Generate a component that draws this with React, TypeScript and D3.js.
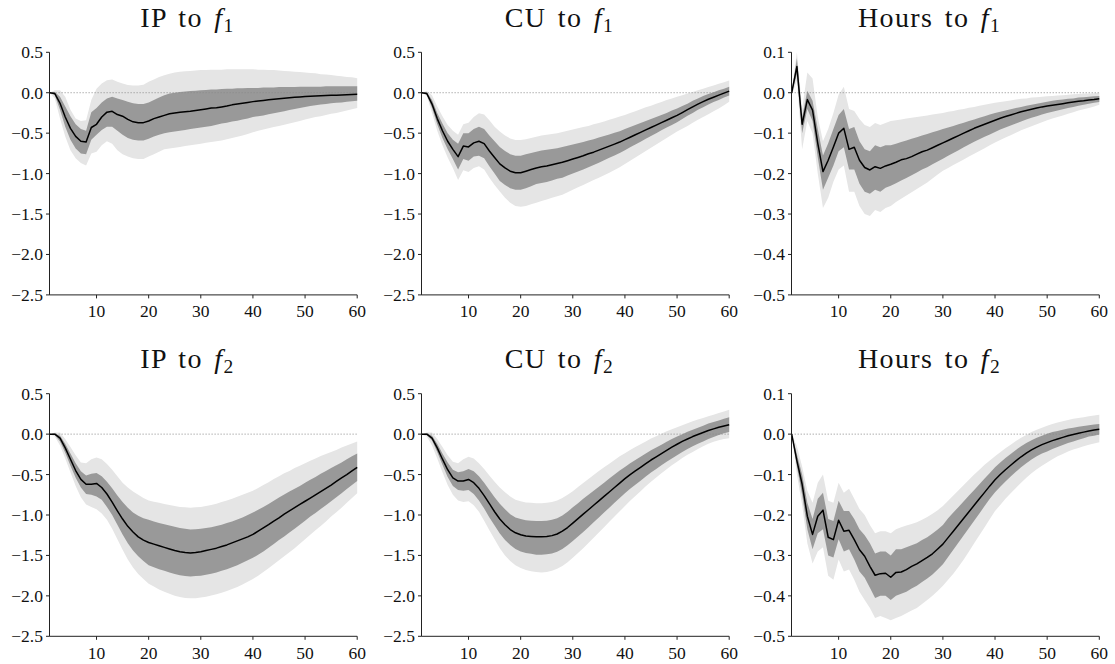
import React from 'react';
import * as d3 from 'd3';

// ---------- categories & ticks ----------
const horizons: number[] = d3.range(1, 61);
const xTickValues = [10, 20, 30, 40, 50, 60];
const levelTicks = [0.5, 0, -0.5, -1, -1.5, -2, -2.5];
const hoursTicks = [0.1, 0, -0.1, -0.2, -0.3, -0.4, -0.5];
const panelVariables = ['IP', 'CU', 'Hours', 'IP', 'CU', 'Hours'];
const panelFactors = ['1', '1', '1', '2', '2', '2'];

// ---------- IP to f1 ----------
const ipF1Med = [
  0, -0.01, -0.13, -0.30, -0.44, -0.54, -0.60, -0.61, -0.43, -0.39,
  -0.30, -0.24, -0.23, -0.27, -0.29, -0.33, -0.36, -0.37, -0.37, -0.35,
  -0.32, -0.30, -0.28, -0.26, -0.25, -0.24, -0.235, -0.23, -0.22, -0.21,
  -0.20, -0.19, -0.185, -0.175, -0.165, -0.15, -0.14, -0.13, -0.12, -0.11,
  -0.102, -0.095, -0.088, -0.081, -0.075, -0.068, -0.062, -0.057, -0.052, -0.048,
  -0.044, -0.041, -0.038, -0.035, -0.032, -0.03, -0.027, -0.025, -0.022, -0.02];
const ipF1Hi68 = [
  0, 0.01, -0.05, -0.17, -0.29, -0.39, -0.45, -0.47, -0.24, -0.19,
  -0.12, -0.07, -0.05, -0.07, -0.09, -0.11, -0.13, -0.14, -0.14, -0.12,
  -0.09, -0.06, -0.03, -0.01, 0.0, 0.01, 0.015, 0.02, 0.025, 0.03,
  0.035, 0.04, 0.04, 0.045, 0.05, 0.05, 0.055, 0.055, 0.06, 0.06,
  0.06, 0.065, 0.065, 0.065, 0.07, 0.07, 0.07, 0.07, 0.075, 0.075,
  0.075, 0.075, 0.075, 0.08, 0.08, 0.08, 0.08, 0.08, 0.08, 0.08];
const ipF1Lo68 = [
  0, -0.03, -0.21, -0.42, -0.58, -0.69, -0.75, -0.76, -0.58, -0.52,
  -0.46, -0.42, -0.42, -0.47, -0.52, -0.56, -0.58, -0.59, -0.59, -0.57,
  -0.54, -0.52, -0.50, -0.49, -0.48, -0.47, -0.46, -0.45, -0.44, -0.43,
  -0.42, -0.41, -0.395, -0.38, -0.37, -0.355, -0.345, -0.33, -0.32, -0.30,
  -0.29, -0.28, -0.265, -0.255, -0.24, -0.23, -0.215, -0.2, -0.19, -0.175,
  -0.165, -0.155, -0.145, -0.14, -0.13, -0.125, -0.12, -0.11, -0.105, -0.1];
const ipF1Hi90 = [
  0, 0.03, 0.03, -0.05, -0.21, -0.32, -0.35, -0.34, -0.09, 0.05,
  0.115, 0.155, 0.165, 0.135, 0.115, 0.095, 0.09, 0.09, 0.10, 0.135,
  0.165, 0.195, 0.215, 0.235, 0.25, 0.26, 0.265, 0.27, 0.275, 0.28,
  0.28, 0.285, 0.285, 0.285, 0.29, 0.29, 0.29, 0.29, 0.29, 0.29,
  0.285, 0.285, 0.28, 0.28, 0.275, 0.27, 0.265, 0.26, 0.255, 0.25,
  0.245, 0.24, 0.23, 0.225, 0.22, 0.21, 0.205, 0.195, 0.19, 0.18];
const ipF1Lo90 = [
  0, -0.07, -0.32, -0.54, -0.71, -0.81, -0.87, -0.90, -0.75, -0.73,
  -0.65, -0.60, -0.63, -0.71, -0.76, -0.79, -0.81, -0.82, -0.82, -0.79,
  -0.76, -0.73, -0.70, -0.69, -0.68, -0.67, -0.66, -0.65, -0.64, -0.63,
  -0.62, -0.61, -0.60, -0.59, -0.575, -0.56, -0.545, -0.53, -0.51, -0.49,
  -0.47, -0.455, -0.44, -0.425, -0.41, -0.395, -0.38, -0.365, -0.35, -0.33,
  -0.315, -0.3, -0.29, -0.275, -0.26, -0.25, -0.235, -0.22, -0.205, -0.19];

// ---------- CU to f1 ----------
const cuF1Med = [
  0, -0.01, -0.14, -0.32, -0.47, -0.60, -0.70, -0.79, -0.66, -0.67,
  -0.62, -0.60, -0.63, -0.72, -0.80, -0.88, -0.93, -0.97, -0.99, -0.99,
  -0.97, -0.95, -0.93, -0.915, -0.905, -0.89, -0.875, -0.86, -0.84, -0.82,
  -0.80, -0.78, -0.755, -0.735, -0.71, -0.685, -0.66, -0.635, -0.61, -0.58,
  -0.55, -0.52, -0.49, -0.46, -0.43, -0.40, -0.37, -0.34, -0.31, -0.28,
  -0.245, -0.21, -0.175, -0.14, -0.11, -0.08, -0.055, -0.03, -0.005, 0.02];
const cuF1Hi68 = [
  0, 0.005, -0.09, -0.25, -0.38, -0.50, -0.58, -0.63, -0.50, -0.50,
  -0.45, -0.42, -0.45, -0.53, -0.60, -0.67, -0.72, -0.76, -0.78, -0.78,
  -0.76, -0.745, -0.73, -0.715, -0.705, -0.695, -0.685, -0.67, -0.655, -0.64,
  -0.625, -0.61, -0.59, -0.575, -0.555, -0.535, -0.515, -0.495, -0.475, -0.45,
  -0.425, -0.40, -0.375, -0.35, -0.325, -0.30, -0.275, -0.25, -0.22, -0.195,
  -0.165, -0.135, -0.10, -0.07, -0.04, -0.015, 0.005, 0.03, 0.05, 0.075];
const cuF1Lo68 = [
  0, -0.025, -0.19, -0.39, -0.56, -0.70, -0.82, -0.95, -0.82, -0.84,
  -0.79, -0.78, -0.81, -0.91, -1.00, -1.09, -1.14, -1.18, -1.20, -1.20,
  -1.18, -1.155, -1.13, -1.115, -1.105, -1.085, -1.065, -1.05, -1.025, -1.00,
  -0.975, -0.95, -0.92, -0.895, -0.865, -0.835, -0.805, -0.775, -0.745, -0.71,
  -0.675, -0.64, -0.605, -0.57, -0.535, -0.50, -0.465, -0.43, -0.40, -0.365,
  -0.325, -0.285, -0.25, -0.21, -0.18, -0.145, -0.115, -0.09, -0.06, -0.035];
const cuF1Hi90 = [
  0, 0.02, -0.03, -0.17, -0.29, -0.40, -0.47, -0.52, -0.39, -0.37,
  -0.30, -0.255, -0.27, -0.34, -0.42, -0.48, -0.53, -0.565, -0.585, -0.585,
  -0.575, -0.56, -0.545, -0.53, -0.52, -0.51, -0.50, -0.485, -0.47, -0.455,
  -0.44, -0.425, -0.41, -0.39, -0.375, -0.355, -0.335, -0.315, -0.295, -0.275,
  -0.25, -0.23, -0.205, -0.18, -0.16, -0.135, -0.115, -0.09, -0.07, -0.05,
  -0.03, -0.01, 0.01, 0.03, 0.05, 0.07, 0.09, 0.11, 0.13, 0.15];
const cuF1Lo90 = [
  0, -0.04, -0.25, -0.47, -0.65, -0.80, -0.93, -1.08, -0.96, -0.98,
  -0.93, -0.91, -0.95, -1.05, -1.14, -1.22, -1.30, -1.36, -1.40, -1.41,
  -1.40, -1.38, -1.36, -1.34, -1.32, -1.30, -1.28, -1.26, -1.23, -1.20,
  -1.17, -1.14, -1.11, -1.08, -1.05, -1.02, -0.99, -0.955, -0.92, -0.88,
  -0.84, -0.80, -0.76, -0.72, -0.68, -0.64, -0.60, -0.56, -0.52, -0.48,
  -0.445, -0.41, -0.37, -0.335, -0.30, -0.265, -0.23, -0.195, -0.155, -0.11];

// ---------- Hours to f1 ----------
const hoursF1Med = [
  0, 0.065, -0.078, -0.017, -0.043, -0.125, -0.195, -0.167, -0.134, -0.10,
  -0.088, -0.14, -0.135, -0.167, -0.185, -0.191, -0.183, -0.187, -0.181, -0.177,
  -0.172, -0.166, -0.163, -0.158, -0.152, -0.146, -0.142, -0.136, -0.130, -0.124,
  -0.118, -0.112, -0.106, -0.100, -0.094, -0.088, -0.083, -0.078, -0.073, -0.068,
  -0.063, -0.059, -0.055, -0.051, -0.047, -0.044, -0.041, -0.038, -0.035, -0.033,
  -0.031, -0.029, -0.027, -0.025, -0.023, -0.021, -0.02, -0.018, -0.017, -0.015];
const hoursF1Hi68 = [
  0, 0.085, -0.06, 0.005, -0.02, -0.09, -0.155, -0.125, -0.09, -0.055,
  -0.04, -0.09, -0.085, -0.12, -0.14, -0.145, -0.13, -0.135, -0.13, -0.13,
  -0.126, -0.122, -0.118, -0.114, -0.11, -0.106, -0.102, -0.098, -0.094, -0.09,
  -0.086, -0.082, -0.078, -0.074, -0.07, -0.066, -0.062, -0.058, -0.054, -0.05,
  -0.047, -0.044, -0.041, -0.038, -0.035, -0.032, -0.03, -0.027, -0.025, -0.022,
  -0.02, -0.018, -0.017, -0.015, -0.014, -0.012, -0.011, -0.01, -0.009, -0.008];
const hoursF1Lo68 = [
  0, 0.045, -0.10, -0.04, -0.07, -0.16, -0.24, -0.21, -0.18, -0.145,
  -0.135, -0.19, -0.19, -0.225, -0.245, -0.25, -0.24, -0.245, -0.235, -0.23,
  -0.224, -0.217, -0.211, -0.204, -0.197, -0.19, -0.184, -0.177, -0.17, -0.163,
  -0.156, -0.149, -0.142, -0.135, -0.128, -0.121, -0.115, -0.109, -0.103, -0.097,
  -0.091, -0.086, -0.081, -0.076, -0.071, -0.066, -0.062, -0.058, -0.054, -0.05,
  -0.047, -0.044, -0.041, -0.038, -0.035, -0.032, -0.03, -0.027, -0.025, -0.023];
const hoursF1Hi90 = [
  0.005, 0.10, -0.04, 0.05, 0.035, -0.06, -0.12, -0.09, -0.05, -0.005,
  0.015, -0.04, -0.045, -0.065, -0.08, -0.085, -0.075, -0.08, -0.075, -0.07,
  -0.068, -0.066, -0.064, -0.062, -0.06, -0.058, -0.056, -0.054, -0.052, -0.05,
  -0.047, -0.045, -0.042, -0.04, -0.037, -0.035, -0.032, -0.03, -0.027, -0.025,
  -0.023, -0.021, -0.019, -0.017, -0.015, -0.014, -0.012, -0.011, -0.01, -0.009,
  -0.008, -0.007, -0.006, -0.005, -0.004, -0.003, -0.002, -0.002, -0.001, 0.0];
const hoursF1Lo90 = [
  -0.005, 0.03, -0.14, -0.07, -0.10, -0.20, -0.285, -0.26, -0.22, -0.19,
  -0.18, -0.245, -0.245, -0.28, -0.30, -0.305, -0.29, -0.295, -0.285, -0.28,
  -0.27, -0.262, -0.254, -0.246, -0.238, -0.23, -0.222, -0.212, -0.202, -0.193,
  -0.186, -0.179, -0.172, -0.165, -0.158, -0.151, -0.144, -0.137, -0.13, -0.123,
  -0.117, -0.111, -0.105, -0.099, -0.093, -0.088, -0.083, -0.078, -0.073, -0.068,
  -0.064, -0.06, -0.056, -0.052, -0.048, -0.044, -0.041, -0.038, -0.034, -0.03];

// ---------- IP to f2 ----------
const ipF2Med = [
  0, 0, -0.05, -0.17, -0.31, -0.45, -0.56, -0.62, -0.62, -0.61,
  -0.66, -0.74, -0.84, -0.95, -1.05, -1.14, -1.21, -1.27, -1.31, -1.34,
  -1.36, -1.38, -1.40, -1.42, -1.44, -1.455, -1.465, -1.47, -1.465, -1.455,
  -1.44, -1.425, -1.41, -1.39, -1.37, -1.345, -1.32, -1.295, -1.27, -1.24,
  -1.20, -1.16, -1.12, -1.075, -1.035, -0.99, -0.95, -0.91, -0.87, -0.83,
  -0.79, -0.75, -0.71, -0.67, -0.63, -0.585, -0.54, -0.50, -0.455, -0.41];
const ipF2Hi68 = [
  0, 0.01, -0.02, -0.12, -0.24, -0.36, -0.46, -0.51, -0.49, -0.48,
  -0.52, -0.59, -0.67, -0.76, -0.84, -0.91, -0.97, -1.01, -1.04, -1.06,
  -1.08, -1.10, -1.115, -1.13, -1.145, -1.16, -1.17, -1.18, -1.175, -1.17,
  -1.16, -1.15, -1.135, -1.12, -1.10, -1.08, -1.055, -1.03, -1.0, -0.97,
  -0.935, -0.9, -0.865, -0.825, -0.785, -0.745, -0.71, -0.675, -0.64, -0.60,
  -0.565, -0.53, -0.49, -0.455, -0.42, -0.385, -0.35, -0.31, -0.275, -0.24];
const ipF2Lo68 = [
  0, -0.01, -0.09, -0.23, -0.39, -0.54, -0.66, -0.74, -0.75, -0.77,
  -0.81, -0.9, -1.0, -1.12, -1.24, -1.35, -1.44, -1.51, -1.57, -1.62,
  -1.645, -1.67, -1.69, -1.71, -1.73, -1.745, -1.755, -1.76, -1.755, -1.75,
  -1.74, -1.725, -1.71, -1.69, -1.67, -1.645, -1.62, -1.59, -1.56, -1.53,
  -1.49, -1.45, -1.405, -1.36, -1.31, -1.265, -1.215, -1.17, -1.12, -1.07,
  -1.02, -0.975, -0.925, -0.88, -0.83, -0.78, -0.73, -0.68, -0.63, -0.58];
const ipF2Hi90 = [
  0, 0.02, 0.02, -0.06, -0.16, -0.26, -0.35, -0.36, -0.31, -0.29,
  -0.31, -0.37, -0.44, -0.52, -0.60, -0.66, -0.71, -0.75, -0.79, -0.82,
  -0.835, -0.85, -0.865, -0.875, -0.89, -0.90, -0.905, -0.91, -0.905, -0.90,
  -0.89, -0.875, -0.86, -0.84, -0.82, -0.80, -0.775, -0.75, -0.725, -0.70,
  -0.665, -0.63, -0.595, -0.555, -0.52, -0.485, -0.455, -0.42, -0.39, -0.36,
  -0.33, -0.30, -0.27, -0.245, -0.22, -0.195, -0.165, -0.14, -0.115, -0.09];
const ipF2Lo90 = [
  0, -0.03, -0.14, -0.30, -0.47, -0.64, -0.78, -0.87, -0.90, -0.93,
  -0.98, -1.06, -1.17, -1.30, -1.43, -1.55, -1.65, -1.73, -1.79, -1.85,
  -1.885, -1.92, -1.95, -1.975, -2.0, -2.015, -2.025, -2.03, -2.03, -2.02,
  -2.01, -1.995, -1.98, -1.96, -1.94, -1.915, -1.89, -1.86, -1.825, -1.79,
  -1.75, -1.705, -1.66, -1.61, -1.56, -1.51, -1.46, -1.41, -1.355, -1.30,
  -1.245, -1.19, -1.135, -1.08, -1.02, -0.965, -0.91, -0.85, -0.79, -0.73];

// ---------- CU to f2 ----------
const cuF2Med = [
  0, 0, -0.05, -0.17, -0.31, -0.44, -0.54, -0.58, -0.58, -0.56,
  -0.60, -0.67, -0.76, -0.86, -0.96, -1.05, -1.12, -1.18, -1.22, -1.245,
  -1.26, -1.265, -1.27, -1.27, -1.265, -1.255, -1.235, -1.20, -1.155, -1.10,
  -1.045, -0.99, -0.935, -0.88, -0.825, -0.77, -0.715, -0.66, -0.605, -0.55,
  -0.50, -0.455, -0.41, -0.365, -0.32, -0.28, -0.24, -0.20, -0.16, -0.125,
  -0.09, -0.06, -0.03, -0.005, 0.02, 0.045, 0.065, 0.085, 0.10, 0.115];
const cuF2Hi68 = [
  0, 0.01, -0.02, -0.12, -0.24, -0.35, -0.44, -0.47, -0.46, -0.43,
  -0.46, -0.52, -0.60, -0.69, -0.78, -0.86, -0.93, -0.99, -1.03, -1.05,
  -1.065, -1.07, -1.075, -1.075, -1.07, -1.06, -1.04, -1.005, -0.96, -0.905,
  -0.855, -0.80, -0.75, -0.70, -0.65, -0.60, -0.55, -0.50, -0.45, -0.405,
  -0.36, -0.32, -0.28, -0.24, -0.20, -0.165, -0.13, -0.095, -0.06, -0.03,
  0.0, 0.03, 0.055, 0.08, 0.105, 0.13, 0.15, 0.17, 0.19, 0.21];
const cuF2Lo68 = [
  0, -0.01, -0.08, -0.22, -0.38, -0.53, -0.64, -0.69, -0.70, -0.69,
  -0.74, -0.82, -0.92, -1.03, -1.13, -1.23, -1.31, -1.37, -1.42, -1.45,
  -1.47, -1.48, -1.49, -1.49, -1.485, -1.475, -1.455, -1.42, -1.375, -1.32,
  -1.265, -1.21, -1.15, -1.09, -1.03, -0.97, -0.91, -0.85, -0.79, -0.73,
  -0.675, -0.625, -0.575, -0.525, -0.475, -0.43, -0.385, -0.34, -0.30, -0.26,
  -0.22, -0.185, -0.15, -0.12, -0.09, -0.06, -0.035, -0.01, 0.01, 0.025];
const cuF2Hi90 = [
  0, 0.02, 0.02, -0.06, -0.16, -0.26, -0.34, -0.36, -0.31, -0.28,
  -0.30, -0.36, -0.43, -0.51, -0.59, -0.66, -0.72, -0.77, -0.81, -0.83,
  -0.845, -0.85, -0.855, -0.855, -0.85, -0.84, -0.82, -0.79, -0.75, -0.705,
  -0.655, -0.605, -0.555, -0.505, -0.455, -0.41, -0.365, -0.32, -0.275, -0.235,
  -0.195, -0.16, -0.125, -0.09, -0.055, -0.025, 0.005, 0.035, 0.06, 0.085,
  0.11, 0.135, 0.16, 0.18, 0.20, 0.22, 0.24, 0.26, 0.28, 0.30];
const cuF2Lo90 = [
  0, -0.03, -0.14, -0.30, -0.47, -0.63, -0.75, -0.82, -0.84, -0.83,
  -0.88, -0.96, -1.07, -1.19, -1.30, -1.41, -1.50, -1.57, -1.62, -1.655,
  -1.68, -1.695, -1.705, -1.71, -1.705, -1.69, -1.665, -1.63, -1.585, -1.53,
  -1.47, -1.41, -1.345, -1.28, -1.215, -1.15, -1.085, -1.02, -0.955, -0.89,
  -0.825, -0.765, -0.705, -0.645, -0.59, -0.535, -0.485, -0.435, -0.385, -0.34,
  -0.295, -0.255, -0.22, -0.185, -0.15, -0.12, -0.095, -0.075, -0.06, -0.05];

// ---------- Hours to f2 ----------
const hoursF2Med = [
  0, -0.066, -0.124, -0.203, -0.248, -0.203, -0.188, -0.255, -0.261, -0.213,
  -0.24, -0.238, -0.261, -0.286, -0.302, -0.327, -0.349, -0.345, -0.344, -0.354,
  -0.342, -0.341, -0.335, -0.327, -0.321, -0.313, -0.305, -0.296, -0.284, -0.272,
  -0.256, -0.24, -0.224, -0.208, -0.192, -0.176, -0.16, -0.144, -0.128, -0.113,
  -0.10, -0.088, -0.077, -0.066, -0.056, -0.047, -0.039, -0.032, -0.026, -0.021,
  -0.016, -0.012, -0.008, -0.004, -0.001, 0.002, 0.005, 0.008, 0.01, 0.012];
const hoursF2Hi68 = [
  0, -0.05, -0.10, -0.17, -0.21, -0.16, -0.145, -0.21, -0.215, -0.165,
  -0.19, -0.19, -0.21, -0.235, -0.25, -0.27, -0.295, -0.29, -0.29, -0.30,
  -0.285, -0.285, -0.28, -0.275, -0.27, -0.262, -0.255, -0.246, -0.236, -0.225,
  -0.208, -0.194, -0.18, -0.166, -0.152, -0.138, -0.124, -0.11, -0.096, -0.082,
  -0.07, -0.059, -0.049, -0.039, -0.03, -0.022, -0.015, -0.009, -0.004, 0.001,
  0.005, 0.008, 0.011, 0.014, 0.016, 0.018, 0.02, 0.022, 0.024, 0.025];
const hoursF2Lo68 = [
  0, -0.08, -0.15, -0.235, -0.285, -0.245, -0.235, -0.30, -0.305, -0.26,
  -0.29, -0.285, -0.31, -0.34, -0.355, -0.38, -0.405, -0.40, -0.40, -0.41,
  -0.40, -0.395, -0.39, -0.382, -0.375, -0.366, -0.357, -0.347, -0.335, -0.322,
  -0.304, -0.286, -0.268, -0.25, -0.232, -0.214, -0.196, -0.178, -0.16, -0.144,
  -0.13, -0.117, -0.105, -0.093, -0.082, -0.072, -0.063, -0.055, -0.048, -0.043,
  -0.037, -0.032, -0.027, -0.022, -0.018, -0.014, -0.01, -0.006, -0.004, -0.001];
const hoursF2Hi90 = [
  0, -0.03, -0.08, -0.14, -0.17, -0.12, -0.10, -0.165, -0.17, -0.12,
  -0.145, -0.135, -0.16, -0.185, -0.20, -0.225, -0.245, -0.24, -0.24, -0.245,
  -0.235, -0.23, -0.226, -0.222, -0.218, -0.212, -0.205, -0.197, -0.188, -0.178,
  -0.165, -0.152, -0.139, -0.126, -0.113, -0.10, -0.088, -0.076, -0.065, -0.055,
  -0.045, -0.035, -0.026, -0.017, -0.009, -0.002, 0.005, 0.011, 0.016, 0.021,
  0.025, 0.029, 0.032, 0.035, 0.038, 0.04, 0.042, 0.044, 0.046, 0.048];
const hoursF2Lo90 = [
  0, -0.10, -0.175, -0.27, -0.32, -0.29, -0.28, -0.35, -0.36, -0.31,
  -0.34, -0.335, -0.36, -0.39, -0.41, -0.43, -0.455, -0.45, -0.455, -0.46,
  -0.455, -0.45, -0.443, -0.436, -0.43, -0.42, -0.41, -0.40, -0.388, -0.375,
  -0.36, -0.345, -0.328, -0.31, -0.29, -0.27, -0.25, -0.23, -0.21, -0.19,
  -0.175, -0.16, -0.146, -0.133, -0.12, -0.108, -0.097, -0.087, -0.078, -0.07,
  -0.062, -0.055, -0.049, -0.043, -0.038, -0.034, -0.03, -0.026, -0.023, -0.02];

// ---------- layout & style ----------
const WIDTH = 1115;
const HEIGHT = 664;
const columnLeft = [49.6, 421.6, 791.7];
const plotWidth = 307.6;
const rowTop = [52.3, 393.7];
const plotHeight = 242.6;
const FONT = '"Liberation Serif", "Times New Roman", Times, serif';
const LIGHT = '#e5e5e5';
const DARK = '#999999';

type PanelSpec = {
  variable: string;
  factor: string;
  med: number[]; lo68: number[]; hi68: number[]; lo90: number[]; hi90: number[];
  ticks: number[];
  col: number; row: number;
};

const panels: PanelSpec[] = [
  { med: ipF1Med, lo68: ipF1Lo68, hi68: ipF1Hi68, lo90: ipF1Lo90, hi90: ipF1Hi90, ticks: levelTicks },
  { med: cuF1Med, lo68: cuF1Lo68, hi68: cuF1Hi68, lo90: cuF1Lo90, hi90: cuF1Hi90, ticks: levelTicks },
  { med: hoursF1Med, lo68: hoursF1Lo68, hi68: hoursF1Hi68, lo90: hoursF1Lo90, hi90: hoursF1Hi90, ticks: hoursTicks },
  { med: ipF2Med, lo68: ipF2Lo68, hi68: ipF2Hi68, lo90: ipF2Lo90, hi90: ipF2Hi90, ticks: levelTicks },
  { med: cuF2Med, lo68: cuF2Lo68, hi68: cuF2Hi68, lo90: cuF2Lo90, hi90: cuF2Hi90, ticks: levelTicks },
  { med: hoursF2Med, lo68: hoursF2Lo68, hi68: hoursF2Hi68, lo90: hoursF2Lo90, hi90: hoursF2Hi90, ticks: hoursTicks },
].map((p, i) => ({ ...p, variable: panelVariables[i], factor: panelFactors[i], col: i % 3, row: Math.floor(i / 3) }));

const fmt = d3.format('.1f');

function Panel({ p }: { p: PanelSpec }) {
  const left = columnLeft[p.col];
  const top = rowTop[p.row];
  const x = d3.scaleLinear().domain([1, 60]).range([left, left + plotWidth]);
  const yMax = d3.max(p.ticks) as number;
  const yMin = d3.min(p.ticks) as number;
  const y = d3.scaleLinear().domain([yMin, yMax]).range([top + plotHeight, top]);

  const band = (lo: number[], hi: number[]) =>
    d3.area<number>()
      .x((h) => x(h))
      .y0((_, i) => y(lo[i]))
      .y1((_, i) => y(hi[i]))(horizons) || '';
  const line = d3.line<number>().x((h) => x(h)).y((_, i) => y(p.med[i]))(horizons) || '';

  const spineX = Math.floor(x(1)) + 0.5;
  const baseY = y(yMin);
  const titleX = (x(1) + x(60)) / 2 - 16;

  return (
    <g>
      <text x={titleX} y={top - 25.5} textAnchor="middle" fontFamily={FONT} fontSize={28}
        letterSpacing={1.4} wordSpacing={3} fill="#111">
        {p.variable} to <tspan fontStyle="italic">f</tspan>
        <tspan fontSize={19.5} dy={5}>{p.factor}</tspan>
      </text>
      <path d={band(p.lo90, p.hi90)} fill={LIGHT} stroke="none" />
      <path d={band(p.lo68, p.hi68)} fill={DARK} stroke="none" />
      <line x1={x(1)} x2={x(60)} y1={y(0)} y2={y(0)} stroke="#888" strokeWidth={1}
        strokeDasharray="1,2" />
      <path d={line} fill="none" stroke="#000" strokeWidth={1.5} strokeLinejoin="round" />
      {/* left spine */}
      <line x1={spineX} x2={spineX} y1={y(yMax)} y2={baseY} stroke="#222" strokeWidth={1} />
      {/* bottom spine */}
      <line x1={spineX} x2={x(60)} y1={baseY} y2={baseY} stroke="#222" strokeWidth={1} />
      {p.ticks.map((t) => (
        <g key={'y' + t}>
          <line x1={spineX - 3.5} x2={spineX} y1={y(t)} y2={y(t)} stroke="#222" strokeWidth={1} />
          <text x={spineX - 6.5} y={y(t)} dy="0.34em" textAnchor="end" fontFamily={FONT}
            fontSize={17.5} fill="#111">{fmt(t)}</text>
        </g>
      ))}
      {xTickValues.map((t) => (
        <g key={'x' + t}>
          <line x1={x(t)} x2={x(t)} y1={baseY} y2={baseY + 3.5} stroke="#222" strokeWidth={1} />
          <text x={x(t)} y={baseY + 22.5} textAnchor="middle" fontFamily={FONT}
            fontSize={17.5} fill="#111">{t}</text>
        </g>
      ))}
    </g>
  );
}

export default function App() {
  return (
    <svg width={WIDTH} height={HEIGHT} viewBox={`0 0 ${WIDTH} ${HEIGHT}`}
      style={{ position: 'absolute', left: 0, top: 0, background: '#fff' }}>
      <rect x={0} y={0} width={WIDTH} height={HEIGHT} fill="#fff" />
      {panels.map((p, i) => <Panel key={i} p={p} />)}
    </svg>
  );
}
